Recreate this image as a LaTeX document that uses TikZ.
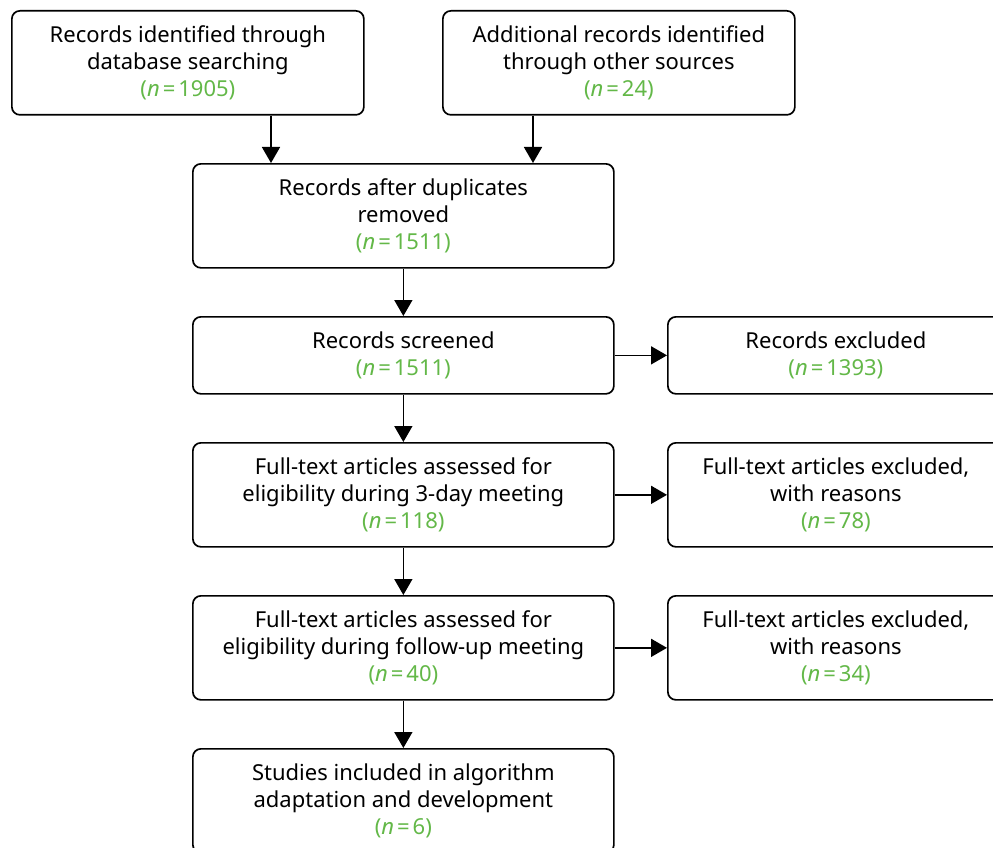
\documentclass[tikz,border=0pt]{standalone}
\usepackage{fontspec}
\setmainfont{Noto Sans}
\usetikzlibrary{arrows.meta}
\definecolor{ngreen}{RGB}{99,184,72}
\newcommand{\cnt}[1]{\textcolor{ngreen}{(\textit{n}\kern3pt=\kern3pt#1)}}
\tikzset{
  box/.style={draw=black, line width=1.7pt, rounded corners=8pt, fill=white,
    anchor=north west, align=center, inner sep=0pt,
    font=\fontsize{22}{27}\selectfont},
  flow/.style={line width=1.7pt, -{Triangle[width=18pt,length=16pt]}}
}
\begin{document}
\begin{tikzpicture}[x=1pt,y=-1pt]
\useasboundingbox (0,0) rectangle (993,848);
\clip (0,0) rectangle (993,848);
\fill[white] (0,0) rectangle (993,848);
% identification
\node[box, minimum width=352pt, minimum height=104pt] (db) at (11,10)
  {Records identified through\\database searching\\\cnt{1905}};
\node[box, minimum width=352pt, minimum height=104pt] (other) at (442,10)
  {Additional records identified\\through other sources\\\cnt{24}};
% screening
\node[box, minimum width=421pt, minimum height=104pt] (dedup) at (192,163)
  {Records after duplicates\\removed\\\cnt{1511}};
\node[box, minimum width=421pt, minimum height=77pt] (screen) at (192,316)
  {Records screened\\\cnt{1511}};
\node[box, minimum width=336pt, minimum height=77pt] (excl) at (667,316)
  {Records excluded\\\cnt{1393}};
% eligibility
\node[box, minimum width=421pt, minimum height=104pt] (full1) at (192,442)
  {Full-text articles assessed for\\eligibility during 3-day meeting\\\cnt{118}};
\node[box, minimum width=336pt, minimum height=104pt] (excl1) at (667,442)
  {Full-text articles excluded,\\with reasons\\\cnt{78}};
\node[box, minimum width=421pt, minimum height=104pt] (full2) at (192,595)
  {Full-text articles assessed for\\eligibility during follow-up meeting\\\cnt{40}};
\node[box, minimum width=336pt, minimum height=104pt] (excl2) at (667,595)
  {Full-text articles excluded,\\with reasons\\\cnt{34}};
% included
\node[box, minimum width=421pt, minimum height=104pt] (incl) at (192,748)
  {Studies included in algorithm\\adaptation and development\\\cnt{6}};
% connectors
\draw[flow] (db.south west) ++(260,0) coordinate (dbout) -- (dbout |- dedup.north);
\draw[flow] (other.south west) ++(91,0) coordinate (otout) -- (otout |- dedup.north);
\draw[flow] (dedup) -- (screen);
\draw[flow] (screen) -- (full1);
\draw[flow] (full1) -- (full2);
\draw[flow] (full2) -- (incl);
\draw[flow] (screen.east) -- (excl.west);
\draw[flow] (full1.east) -- (excl1.west);
\draw[flow] (full2.east) -- (excl2.west);
\end{tikzpicture}
\end{document}
